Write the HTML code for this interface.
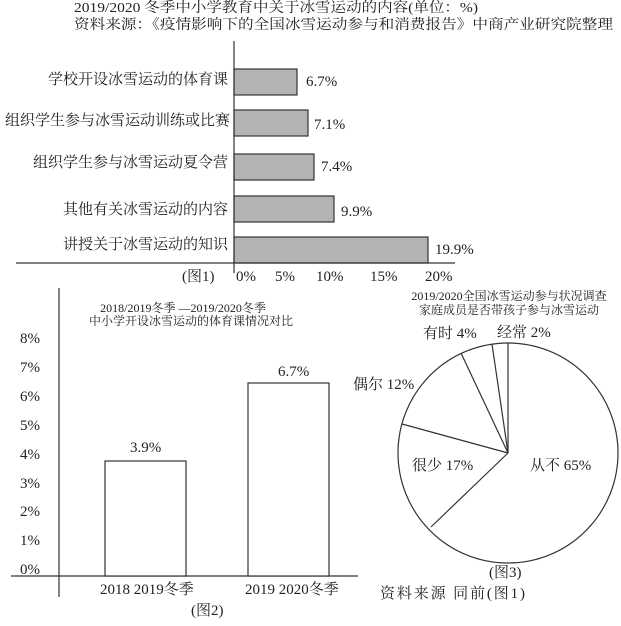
<!DOCTYPE html>
<html><head><meta charset="utf-8"><style>
body{margin:0;background:#fff}
svg text{font-family:"Liberation Serif","Noto Serif CJK SC","Noto Sans CJK SC",serif;fill:#222}
</style></head><body>
<svg width="621" height="621" viewBox="0 0 621 621" xmlns="http://www.w3.org/2000/svg">
<g font-size="14">
<text x="74" y="12" textLength="404" lengthAdjust="spacingAndGlyphs">2019/2020 冬季中小学教育中关于冰雪运动的内容(单位：%)</text>
<text x="74" y="29" textLength="539" lengthAdjust="spacingAndGlyphs">资料来源：《疫情影响下的全国冰雪运动参与和消费报告》中商产业研究院整理</text>
</g>
<g stroke="#333" stroke-width="1.2" fill="#b3b3b3">
<rect x="234" y="69" width="63" height="26"/>
<rect x="234" y="110" width="74" height="26"/>
<rect x="234" y="154" width="80" height="26"/>
<rect x="234" y="196" width="100" height="26"/>
<rect x="234" y="237" width="194" height="26"/>
</g>
<line x1="234" y1="41" x2="234" y2="273" stroke="#333" stroke-width="1.2"/>
<line x1="16" y1="263" x2="455" y2="263" stroke="#333" stroke-width="1.2"/>
<g font-size="15" text-anchor="end">
<text x="228" y="84">学校开设冰雪运动的体育课</text>
<text x="230" y="125">组织学生参与冰雪运动训练或比赛</text>
<text x="228" y="167">组织学生参与冰雪运动夏令营</text>
<text x="228" y="214">其他有关冰雪运动的内容</text>
<text x="228" y="249">讲授关于冰雪运动的知识</text>
</g>
<g font-size="15">
<text x="306" y="86">6.7%</text>
<text x="314" y="129">7.1%</text>
<text x="321" y="171">7.4%</text>
<text x="341" y="216">9.9%</text>
<text x="435" y="254">19.9%</text>
<text x="236" y="281">0%</text>
<text x="275" y="281">5%</text>
<text x="316" y="281">10%</text>
<text x="370" y="281">15%</text>
<text x="425" y="281">20%</text>
<text x="182" y="281">(图1)</text>
</g>
<!-- chart 2 -->
<line x1="59" y1="288" x2="59" y2="597" stroke="#333" stroke-width="1.2"/>
<line x1="11" y1="576" x2="358" y2="576" stroke="#333" stroke-width="1.2"/>
<g stroke="#333" stroke-width="1.2" fill="#fff">
<rect x="105" y="461" width="81" height="115"/>
<rect x="248" y="383" width="81" height="193"/>
</g>
<g font-size="12" text-anchor="middle">
<text x="183" y="312">2018/2019冬季 —2019/2020冬季</text>
<text x="191" y="325">中小学开设冰雪运动的体育课情况对比</text>
</g>
<g font-size="15">
<text x="20" y="343">8%</text><text x="20" y="372">7%</text><text x="20" y="401">6%</text>
<text x="20" y="430">5%</text><text x="20" y="459">4%</text><text x="20" y="488">3%</text>
<text x="20" y="516">2%</text><text x="20" y="545">1%</text><text x="20" y="574">0%</text>
<text x="130" y="452">3.9%</text><text x="278" y="376">6.7%</text>
<text x="100" y="594">2018 2019冬季</text><text x="245" y="594">2019 2020冬季</text>
<text x="191" y="615">(图2)</text>
</g>
<!-- pie -->
<circle cx="508" cy="453" r="110" fill="#fff" stroke="#333" stroke-width="1.2"/>
<g stroke="#333" stroke-width="1.2">
<line x1="508" y1="453" x2="508" y2="343"/>
<line x1="508" y1="453" x2="431" y2="527"/>
<line x1="508" y1="453" x2="402" y2="424"/>
<line x1="508" y1="453" x2="461" y2="353"/>
<line x1="508" y1="453" x2="492" y2="344"/>
</g>
<g font-size="12" text-anchor="middle">
<text x="509" y="300">2019/2020全国冰雪运动参与状况调查</text>
<text x="509" y="314">家庭成员是否带孩子参与冰雪运动</text>
</g>
<g font-size="15">
<text x="423" y="338">有时 4%</text>
<text x="497" y="337">经常 2%</text>
<text x="353" y="389">偶尔 12%</text>
<text x="412" y="470">很少 17%</text>
<text x="530" y="470">从不 65%</text>
<text x="489" y="577">(图3)</text>
<text x="380" y="598" textLength="145" lengthAdjust="spacing">资料来源  同前(图1)</text>
</g>
</svg>
</body></html>
